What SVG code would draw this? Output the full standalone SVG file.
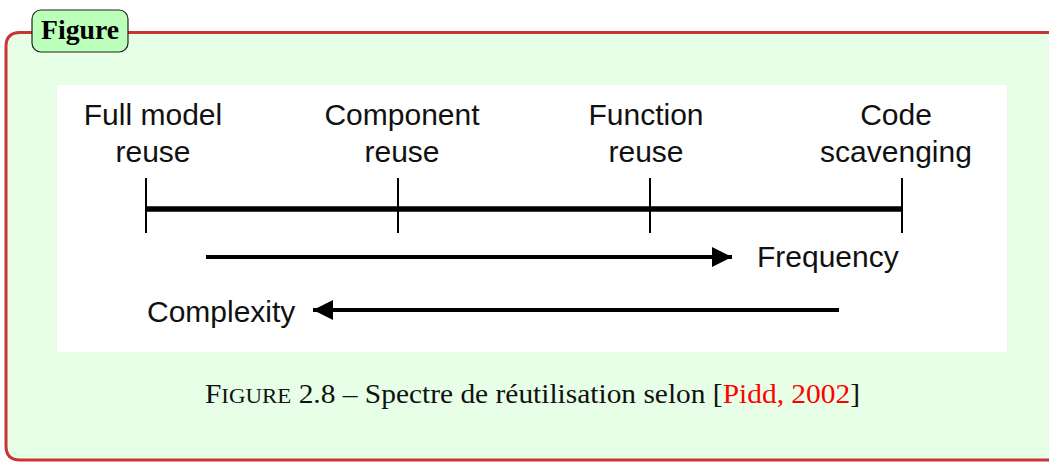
<svg xmlns="http://www.w3.org/2000/svg" width="1049" height="462" viewBox="0 0 1049 462">
<style>
.lbl{font-family:"Liberation Sans",Arial,sans-serif;font-size:30px;fill:#111;text-anchor:middle}
.cap{font-family:"Liberation Serif","Times New Roman",serif;font-size:27px;fill:#111}
.ln{stroke:#000;fill:none}
</style>
<defs>
<marker id="ah" viewBox="0 0 10 10" refX="10" refY="5" markerWidth="6" markerHeight="5" markerUnits="strokeWidth" orient="auto"><path d="M0,0L10,5L0,10z" fill="#000"/></marker>
</defs>
<g id="frame">
<path d="M1060,32.5 H20 Q6,32.5 6,46.5 V446 Q6,460 20,460 H1060 Z" fill="#e6ffe6" stroke="#cc3333" stroke-width="3"/>
<rect x="57" y="85" width="950" height="267" fill="#fff"/>
</g>
<g id="tag">
<rect x="32" y="10" width="96" height="42" rx="9" fill="#bbffbb" stroke="#222" stroke-width="1.2"/>
<text x="80" y="39" text-anchor="middle" textLength="78" lengthAdjust="spacingAndGlyphs" style="font-family:'Liberation Serif',serif;font-weight:bold;font-size:28px" fill="#000">Figure</text>
</g>
<g id="connectors">
<line class="ln" x1="146" y1="209" x2="902" y2="209" stroke-width="5.5"/>
<line class="ln" x1="146" y1="178" x2="146" y2="233" stroke-width="2"/>
<line class="ln" x1="398" y1="178" x2="398" y2="233" stroke-width="2"/>
<line class="ln" x1="650" y1="178" x2="650" y2="233" stroke-width="2"/>
<line class="ln" x1="902" y1="178" x2="902" y2="233" stroke-width="2"/>
<line class="ln" x1="206" y1="257" x2="732" y2="257" stroke-width="4" marker-end="url(#ah)"/>
<line class="ln" x1="839" y1="310" x2="313" y2="310" stroke-width="4" marker-end="url(#ah)"/>
</g>
<g id="n-full"><text class="lbl" x="153" y="125">Full model</text><text class="lbl" x="153" y="162">reuse</text></g>
<g id="n-component"><text class="lbl" x="402" y="125">Component</text><text class="lbl" x="402" y="162">reuse</text></g>
<g id="n-function"><text class="lbl" x="646" y="125">Function</text><text class="lbl" x="646" y="162">reuse</text></g>
<g id="n-code"><text class="lbl" x="896" y="125">Code</text><text class="lbl" x="896" y="162">scavenging</text></g>
<g id="n-frequency"><text class="lbl" x="757" y="267" style="text-anchor:start">Frequency</text></g>
<g id="n-complexity"><text class="lbl" x="147" y="322" style="text-anchor:start">Complexity</text></g>
<g id="caption">
<text class="cap" x="205" y="403" textLength="655" lengthAdjust="spacingAndGlyphs">F<tspan font-size="21">IGURE</tspan> 2.8 – Spectre de réutilisation selon [<tspan fill="#ff0000">Pidd, 2002</tspan>]</text>
</g>
</svg>
